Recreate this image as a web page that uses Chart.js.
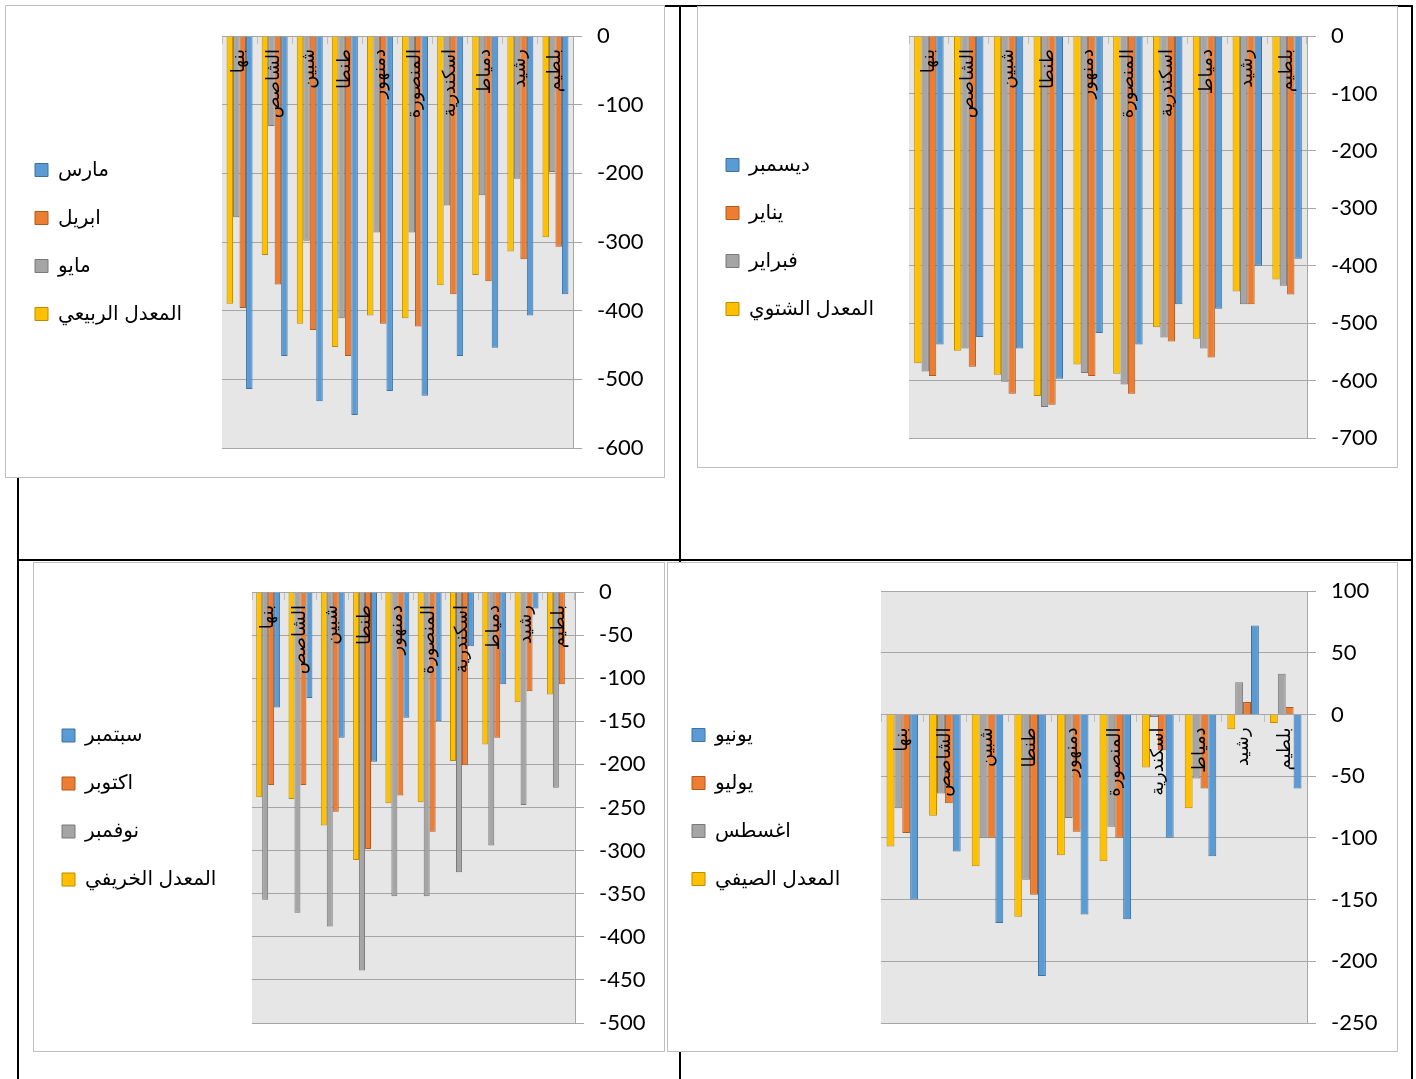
<!DOCTYPE html>
<html lang="ar">
<head>
<meta charset="utf-8">
<title>المعدلات الفصلية</title>
<script src="https://cdn.jsdelivr.net/npm/chart.js@4.4.1/dist/chart.umd.min.js"></script>
<style>
    body { margin: 0; background: #fff; }
    #page { position: relative; width: 1416px; height: 1079px; overflow: hidden; }
    .rule { position: absolute; background: #000; }
    .box { position: absolute; background: #fff; border: 1px solid #bfbfbf; box-sizing: border-box; }
    canvas { position: absolute; }
</style>
</head>
<body>
<div id="page">
    <!-- table lines -->
    <div class="rule" style="left:17px; top:5px; width:2px; height:1074px"></div>
    <div class="rule" style="left:1411px; top:5px; width:2px; height:1074px"></div>
    <div class="rule" style="left:679px; top:5px; width:2px; height:1074px"></div>
    <div class="rule" style="left:17px; top:5px; width:1396px; height:2px"></div>
    <div class="rule" style="left:17px; top:559px; width:1396px; height:2px"></div>

    <div class="box" style="left:5px; top:5px; width:660px; height:473px"></div>
    <div class="box" style="left:697px; top:6px; width:701px; height:462px"></div>
    <div class="box" style="left:33px; top:562px; width:632px; height:490px"></div>
    <div class="box" style="left:667px; top:562px; width:731px; height:490px"></div>

    <canvas id="springChart"></canvas>
    <canvas id="winterChart"></canvas>
    <canvas id="autumnChart"></canvas>
    <canvas id="summerChart"></canvas>
</div>

<script>
const stations = ['بنها', 'الشاصص', 'شبين', 'طنطا', 'دمنهور', 'المنصورة', 'اسكندرية', 'دمياط', 'رشيد', 'بلطيم'];

// spring
const springAvg = [-390, -319, -419, -453, -407, -411, -363, -348, -314, -293];
const may = [-264, -131, -298, -411, -286, -286, -247, -232, -208, -198];
const april = [-396, -362, -428, -466, -419, -423, -376, -357, -325, -307];
const march = [-514, -466, -532, -552, -517, -524, -466, -454, -407, -376];

// winter
const winterAvg = [-570, -548, -590, -627, -572, -588, -507, -527, -445, -424];
const february = [-584, -544, -602, -646, -587, -607, -525, -544, -467, -435];
const january = [-592, -576, -623, -642, -592, -623, -532, -560, -467, -450];
const december = [-537, -524, -544, -597, -517, -537, -467, -475, -400, -388];

// autumn
const autumnAvg = [-238, -240, -271, -311, -245, -244, -196, -177, -128, -119];
const november = [-357, -372, -388, -439, -353, -353, -325, -294, -247, -227];
const october = [-224, -224, -255, -298, -236, -278, -201, -169, -115, -107];
const september = [-134, -123, -169, -197, -146, -150, -63, -107, -19, 0];

// summer
const summerAvg = [-107, -82, -123, -164, -114, -119, -43, -76, -12, -7];
const august = [-76, -64, -100, -134, -84, -91, -2, -52, 26, 33];
const july = [-96, -72, -100, -146, -95, -100, -29, -60, 10, 6];
const june = [-150, -111, -169, -212, -162, -166, -100, -115, 72, -60];

// series colours: average, third month, second month, first month
const fills = ['#FFC000', '#A5A5A5', '#ED7D31', '#5B9BD5'];
const edges = ['#BC8C00', '#787878', '#AE5A21', '#41719C'];

const AXIS_W = 70;
const ARABIC_FONT = "'Liberation Sans', 'DejaVu Sans', sans-serif";

// grey plot background
const plotBackground = {
    id: 'plotBackground',
    beforeDraw(chart) {
        const {ctx, chartArea: a} = chart;
        ctx.save();
        ctx.fillStyle = '#e7e6e6';
        ctx.fillRect(a.left, a.top, a.right - a.left, a.bottom - a.top);
        ctx.restore();
    }
};

// station names written downwards from the zero line
const stationLabels = {
    id: 'stationLabels',
    afterDatasetsDraw(chart) {
        const {ctx, scales} = chart;
        const top = scales.y.getPixelForValue(0) + 13;
        ctx.save();
        ctx.font = "18px 'DejaVu Sans'";
        ctx.fillStyle = '#000';
        ctx.textAlign = 'right';
        ctx.textBaseline = 'middle';
        chart.data.labels.forEach(function (name, i) {
            ctx.save();
            ctx.translate(scales.x.getPixelForValue(i), top);
            ctx.rotate(-Math.PI / 2);
            ctx.fillText(name, 0, 0);
            ctx.restore();
        });
        ctx.restore();
    }
};

// keep the legend column at a fixed width so the plot starts where it should
const legendWidth = {
    id: 'legendWidth',
    afterInit(chart, args, opts) {
        const legend = chart.legend;
        const fit = legend.fit;
        legend.fit = function () {
            fit.call(this);
            this.width = opts.width;
        };
    }
};

function seasonChart(id, names, series, yMin, yMax, step, box, plot, padLeft) {
    const canvas = document.getElementById(id);
    canvas.width = box.w;
    canvas.height = box.h;
    canvas.style.left = box.x + 'px';
    canvas.style.top = box.y + 'px';

    const datasets = series.map(function (values, i) {
        return {
            label: names[i],
            data: values,
            backgroundColor: fills[i],
            borderColor: edges[i],
            borderWidth: 1,
            categoryPercentage: 0.74,
            barPercentage: 1.0
        };
    });

    return new Chart(canvas.getContext('2d'), {
        type: 'bar',
        data: { labels: stations, datasets: datasets },
        options: {
            responsive: false,
            animation: false,
            layout: {
                padding: {
                    left: padLeft,
                    top: plot.t - box.y,
                    right: box.x + box.w - plot.r - AXIS_W,
                    bottom: box.y + box.h - plot.b
                }
            },
            plugins: {
                legend: {
                    position: 'left',
                    reverse: true,
                    labels: {
                        boxWidth: 13,
                        boxHeight: 13,
                        padding: 28,
                        color: '#000',
                        font: { family: ARABIC_FONT, size: 20 }
                    }
                },
                legendWidth: { width: plot.l - box.x - padLeft },
                tooltip: { enabled: false }
            },
            scales: {
                x: {
                    position: { y: 0 },
                    offset: true,
                    ticks: { display: false },
                    grid: {
                        offset: true,
                        drawOnChartArea: false,
                        drawTicks: true,
                        tickLength: 7,
                        color: '#bfbfbf'
                    },
                    border: { color: '#a6a6a6' }
                },
                y: {
                    position: 'right',
                    min: yMin,
                    max: yMax,
                    afterFit: function (scale) { scale.width = AXIS_W; },
                    ticks: {
                        stepSize: step,
                        padding: 15,
                        color: '#000',
                        font: { family: 'Lato', size: 22 }
                    },
                    grid: { color: '#a6a6a6', tickLength: 9 },
                    border: { color: '#a6a6a6' }
                }
            }
        },
        plugins: [plotBackground, stationLabels, legendWidth]
    });
}

seasonChart('springChart',
    ['المعدل الربيعي', 'مايو', 'ابريل', 'مارس'],
    [springAvg, may, april, march],
    -600, 0, 100,
    { x: 5, y: 5, w: 660, h: 473 },
    { l: 222, t: 36, r: 573, b: 448 }, 2);

seasonChart('winterChart',
    ['المعدل الشتوي', 'فبراير', 'يناير', 'ديسمبر'],
    [winterAvg, february, january, december],
    -700, 0, 100,
    { x: 697, y: 6, w: 701, h: 462 },
    { l: 909, t: 36, r: 1307, b: 438 }, 1);

seasonChart('autumnChart',
    ['المعدل الخريفي', 'نوفمبر', 'اكتوبر', 'سبتمبر'],
    [autumnAvg, november, october, september],
    -500, 0, 50,
    { x: 33, y: 562, w: 632, h: 490 },
    { l: 252, t: 592, r: 575, b: 1023 }, 1);

seasonChart('summerChart',
    ['المعدل الصيفي', 'اغسطس', 'يوليو', 'يونيو'],
    [summerAvg, august, july, june],
    -250, 100, 50,
    { x: 667, y: 562, w: 731, h: 490 },
    { l: 881, t: 591, r: 1307, b: 1023 }, -3);
</script>
</body>
</html>
